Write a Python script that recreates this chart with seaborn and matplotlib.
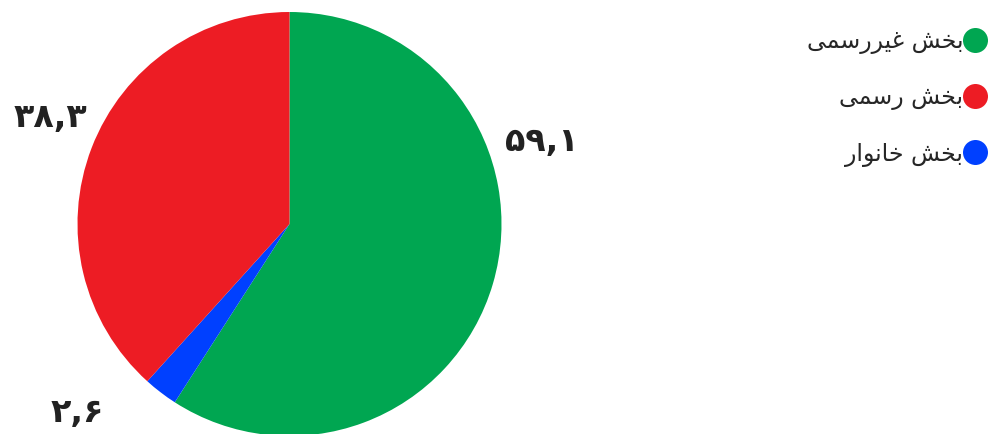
import matplotlib
matplotlib.use("Agg")
import matplotlib.pyplot as plt
from matplotlib.lines import Line2D
import seaborn as sns

# ---- data ----
categories = ["بخش غیررسمی", "بخش خانوار", "بخش رسمی"]
values = [59.1, 2.6, 38.3]
value_labels = ["۵۹,۱", "۲,۶", "۳۸,۳"]
colors = ["#00A651", "#0040FF", "#ED1C24"]
legend_order = [0, 2, 1]
# label positions (pie-radius units) for the value texts
label_pos = [(1.19, 0.39), (-1.0, -0.89), (-1.13, 0.50)]

# ---- minimal Arabic/Persian shaping (matplotlib has no complex text layout) ----
FORMS = {
    "ب": ("\uFE8F", "\uFE90", "\uFE91", "\uFE92"),
    "خ": ("\uFEA5", "\uFEA6", "\uFEA7", "\uFEA8"),
    "ش": ("\uFEB5", "\uFEB6", "\uFEB7", "\uFEB8"),
    "غ": ("\uFECD", "\uFECE", "\uFECF", "\uFED0"),
    "ی": ("\uFBFC", "\uFBFD", "\uFBFE", "\uFBFF"),
    "س": ("\uFEB1", "\uFEB2", "\uFEB3", "\uFEB4"),
    "م": ("\uFEE1", "\uFEE2", "\uFEE3", "\uFEE4"),
    "ن": ("\uFEE5", "\uFEE6", "\uFEE7", "\uFEE8"),
    "ر": ("\uFEAD", "\uFEAE"),
    "ا": ("\uFE8D", "\uFE8E"),
    "و": ("\uFEED", "\uFEEE"),
}


def shape(text):
    out = []
    n = len(text)
    for i, ch in enumerate(text):
        if ch not in FORMS:
            out.append(ch)
            continue
        f = FORMS[ch]
        prev = text[i - 1] if i > 0 else None
        nxt = text[i + 1] if i < n - 1 else None
        jp = prev in FORMS and len(FORMS[prev]) == 4
        jn = len(f) == 4 and nxt in FORMS
        if jp and jn:
            out.append(f[3])
        elif jp:
            out.append(f[1])
        elif jn:
            out.append(f[2])
        else:
            out.append(f[0])
    return "".join(out)[::-1]


sns.set_theme(style="white")
plt.rcParams["font.family"] = ["DejaVu Sans"]

fig = plt.figure(figsize=(9.95, 4.34), dpi=100)
W, H = 995, 434
cx, cy, r = 289.5, 434 - 224, 212
ax = fig.add_axes([(cx - r) / W, (cy - r) / H, 2 * r / W, 2 * r / H])

wedges, _ = ax.pie(values, colors=colors, startangle=90, counterclock=False,
                   radius=1, wedgeprops=dict(linewidth=0))
ax.set_xlim(-1, 1)
ax.set_ylim(-1, 1)
ax.set_aspect("equal")
ax.axis("off")

for (x, y), t in zip(label_pos, value_labels):
    ax.text(x, y, t, ha="center", va="center", fontsize=24,
            fontweight="bold", color="#222222")

handles = [Line2D([0], [0], marker="o", linestyle="none", markersize=18,
                  markerfacecolor=colors[i], markeredgewidth=0)
           for i in legend_order]
labels = [shape(categories[i]) for i in legend_order]
fig.legend(handles, labels, loc="upper right", bbox_to_anchor=(0.999, 0.95),
           frameon=False, markerfirst=False, fontsize=17, labelspacing=1.33,
           handletextpad=0.0, handlelength=1.0, borderaxespad=0.0,
           borderpad=0.3)

fig.savefig("out.png", dpi=100)
